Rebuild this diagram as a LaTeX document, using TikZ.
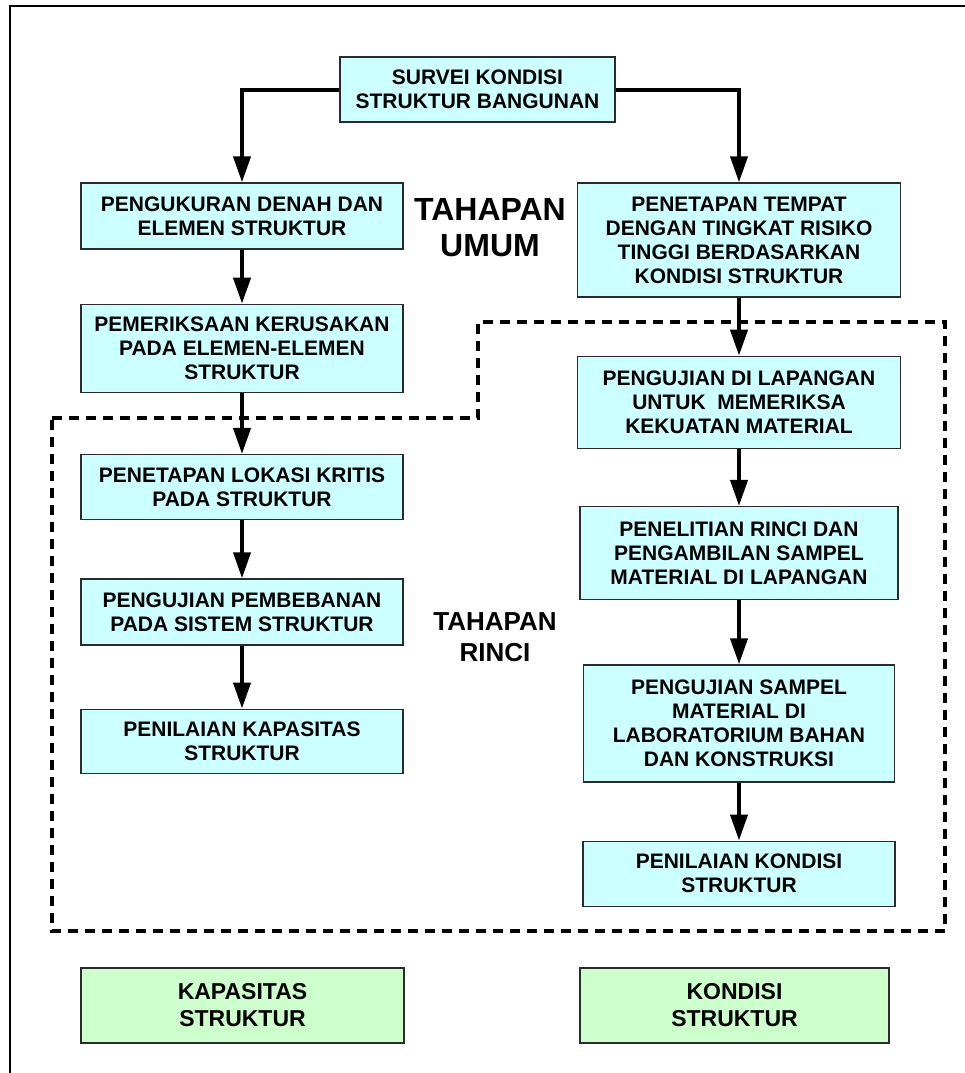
\documentclass[tikz,border=0pt]{standalone}
\usepackage{fontspec}
\setmainfont{Liberation Sans}
\usetikzlibrary{positioning,arrows.meta}
\definecolor{cyanfill}{HTML}{CCFFFF}
\definecolor{greenfill}{HTML}{CCFFCC}
\definecolor{edge}{HTML}{2B2B2B}
\newcommand{\bx}{\fontsize{21pt}{24pt}\selectfont\bfseries}
\tikzset{
  box/.style={draw=edge, line width=1.3pt, fill=cyanfill, align=center, inner sep=0pt,
    minimum width=322pt, text=black, font=\bx},
  gbox/.style={box, fill=greenfill, minimum height=75pt,
    font=\fontsize{23pt}{27pt}\selectfont\bfseries},
  arr/.style={-{Triangle[length=26pt,width=17pt]}, line width=4pt},
  zone/.style={dash pattern=on 10pt off 7pt, line width=4pt},
  lab/.style={align=center, font=\fontsize{32pt}{36pt}\selectfont\bfseries},
  slab/.style={align=center, font=\fontsize{26pt}{31pt}\selectfont\bfseries},
}
\begin{document}
\begin{tikzpicture}[x=1pt, y=-1pt]
    \useasboundingbox (0,0) rectangle (965,1073);
    \draw[line width=1.3pt] (10,1073) |- (965,6);
    % daerah tahapan rinci
    \draw[zone] (52,418) -- (478,418) -- (478,322) -- (945,322) -- (945,931) -- (52,931) -- cycle;
    \node[box, minimum width=275pt, minimum height=65pt] (survei) at (477.5,89.5)
      {SURVEI KONDISI\\STRUKTUR BANGUNAN};
    \node[box, minimum height=66pt] (ukur) at (242,216)
      {PENGUKURAN DENAH DAN\\ELEMEN STRUKTUR};
    \node[box, minimum height=88pt, below=54pt of ukur] (periksa)
      {PEMERIKSAAN KERUSAKAN\\PADA ELEMEN-ELEMEN\\STRUKTUR};
    \node[box, minimum height=65pt, below=61pt of periksa] (lokasi)
      {PENETAPAN LOKASI KRITIS\\PADA STRUKTUR};
    \node[box, minimum height=66pt, below=58pt of lokasi] (beban)
      {PENGUJIAN PEMBEBANAN\\PADA SISTEM STRUKTUR};
    \node[box, minimum height=64pt, below=63pt of beban] (nilaikap)
      {PENILAIAN KAPASITAS\\STRUKTUR};
    \node[box, minimum width=323pt, minimum height=114pt] (tempat) at (739,240)
      {PENETAPAN TEMPAT\\DENGAN TINGKAT RISIKO\\TINGGI BERDASARKAN\\KONDISI STRUKTUR};
    \node[box, minimum width=323pt, minimum height=92pt, below=58pt of tempat] (lapangan)
      {PENGUJIAN DI LAPANGAN\\UNTUK\ \ MEMERIKSA\\KEKUATAN MATERIAL};
    \node[box, minimum width=318pt, minimum height=93pt, below=57pt of lapangan] (teliti)
      {PENELITIAN RINCI DAN\\PENGAMBILAN SAMPEL\\MATERIAL DI LAPANGAN};
    \node[box, minimum width=311pt, minimum height=117pt, below=64pt of teliti] (sampel)
      {PENGUJIAN SAMPEL\\MATERIAL DI\\LABORATORIUM BAHAN\\DAN KONSTRUKSI};
    \node[box, minimum width=312pt, minimum height=65pt, below=58pt of sampel] (nilaikon)
      {PENILAIAN KONDISI\\STRUKTUR};
    \node[gbox, minimum width=323pt] (kap) at (242.5,1005.5) {KAPASITAS\\STRUKTUR};
    \node[gbox, minimum width=309pt] (kon) at (734.5,1005.5) {KONDISI\\STRUKTUR};
    \node[lab] (umum) at (490,228) {TAHAPAN\\UMUM};
    \node[slab] (rinci) at (495,637) {TAHAPAN\\RINCI};
    \draw[arr] (survei.west) -| (ukur.north);
    \draw[arr] (survei.east) -| (tempat.north);
    \draw[arr] (ukur) -- (periksa);
    \draw[arr] (periksa) -- (lokasi);
    \draw[arr] (lokasi) -- (beban);
    \draw[arr] (beban) -- (nilaikap);
    \draw[arr] (tempat) -- (lapangan);
    \draw[arr] (lapangan) -- (teliti);
    \draw[arr] (teliti) -- (sampel);
    \draw[arr] (sampel) -- (nilaikon);
  \end{tikzpicture}
\end{document}
